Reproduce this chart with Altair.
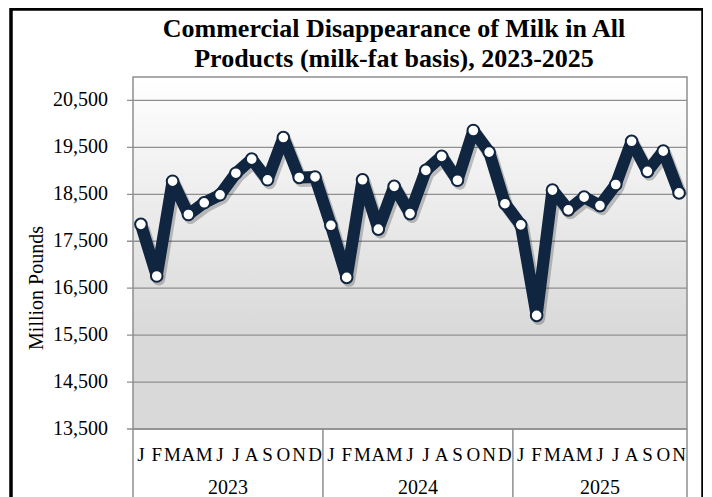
import altair as alt
import pandas as pd

# ---------------- data ----------------
months = ["J", "F", "M", "A", "M", "J", "J", "A", "S", "O", "N", "D"]
years = ["2023", "2024", "2025"]
values_2023 = [17860, 16760, 18780, 18070, 18320, 18490, 18950, 19250, 18810, 19710, 18860, 18870]
values_2024 = [17840, 16730, 18810, 17760, 18670, 18090, 19010, 19310, 18800, 19860, 19400, 18300]
values_2025 = [17850, 15920, 18590, 18170, 18440, 18260, 18710, 19630, 18990, 19420, 18530]
y_ticks = [13500, 14500, 15500, 16500, 17500, 18500, 19500, 20500]
y_domain = [13500, 21000]
title_lines = ["Commercial Disappearance of Milk in All", "Products (milk-fat basis), 2023-2025"]
y_title = "Million Pounds"

# ---------------- tables built from the arrays ----------------
series = [values_2023, values_2024, values_2025]
rows = []
idx = 0
year_rows = []
bounds = [-0.5]
for yr, vals in zip(years, series):
    start = idx
    for m, v in zip(months, vals):
        rows.append({"idx": idx, "month": m, "year": yr, "value": v})
        idx += 1
    year_rows.append({"year": yr, "center": (start + idx - 1) / 2})
    bounds.append(idx - 0.5)
df = pd.DataFrame(rows)
n = len(df)
ydf = pd.DataFrame({"year": [r["year"] for r in year_rows], "center": [r["center"] for r in year_rows]})
bdf = pd.DataFrame({"b": bounds})
tdf = pd.DataFrame({"tick": y_ticks})
one = pd.DataFrame({"k": [0]})

# ---------------- styling ----------------
W, H = 554, 352
SERIF = "Liberation Serif"
NAVY = "#10253f"
GRID = "#8f8f8f"

xscale = alt.Scale(domain=[-0.5, n - 0.5], nice=False, zero=False)
yscale = alt.Scale(domain=y_domain, nice=False, zero=False)


def X(field):
    return alt.X(field, type="quantitative", scale=xscale, axis=None)


def Y(field):
    return alt.Y(field, type="quantitative", scale=yscale, axis=None)


outer = alt.Chart(one).mark_rect(filled=False, stroke="black", strokeWidth=3.5).encode(
    x=alt.value(-122), x2=alt.value(570), y=alt.value(-68), y2=alt.value(H + 100))

bg = alt.Chart(one).mark_rect(
    fill=alt.LinearGradient(
        gradient="linear", x1=0, y1=0, x2=0, y2=1,
        stops=[alt.GradientStop(offset=0, color="#ffffff"),
               alt.GradientStop(offset=0.72, color="#d9d9d9"),
               alt.GradientStop(offset=1, color="#d9d9d9")])
).encode(x=alt.value(0), x2=alt.value(W), y=alt.value(0), y2=alt.value(H))

grid = alt.Chart(tdf).mark_rule(color=GRID, strokeWidth=1.3).encode(
    y=Y("tick"), x=alt.value(-6), x2=alt.value(W))

tick_lbl = alt.Chart(tdf).mark_text(font=SERIF, fontSize=20, color="black",
                                    align="right", baseline="middle").encode(
    y=Y("tick"), x=alt.value(-25), text=alt.Text("tick:Q", format=","))

frame = alt.Chart(one).mark_rect(filled=False, stroke=GRID, strokeWidth=1.5).encode(
    x=alt.value(0), x2=alt.value(W), y=alt.value(0), y2=alt.value(H))

seps = alt.Chart(bdf).mark_rule(color=GRID, strokeWidth=1.5).encode(
    x=X("b"), y=alt.value(H), y2=alt.value(H + 90))

shadow = alt.Chart(df).mark_line(color="black", opacity=0.22, strokeWidth=13,
                                 strokeJoin="round", xOffset=2, yOffset=3).encode(
    x=X("idx"), y=Y("value"))

line = alt.Chart(df).mark_line(color=NAVY, strokeWidth=12, strokeJoin="round").encode(
    x=X("idx"), y=Y("value"))

pts = alt.Chart(df).mark_circle(fill="white", stroke=NAVY, strokeWidth=2, size=135,
                                opacity=1).encode(x=X("idx"), y=Y("value"))

month_txt = alt.Chart(df).mark_text(font=SERIF, fontSize=19, color="black",
                                    baseline="alphabetic", align="center").encode(
    x=X("idx"), y=alt.value(384), text="month:N")

year_txt = alt.Chart(ydf).mark_text(font=SERIF, fontSize=20, color="black",
                                    baseline="alphabetic", align="center").encode(
    x=X("center"), y=alt.value(417), text="year:N")

title_txt = alt.Chart(one).mark_text(font=SERIF, fontSize=26, fontWeight="bold",
                                     color="black", baseline="alphabetic",
                                     align="center", lineHeight=30).encode(
    x=alt.value(261), y=alt.value(-40), text=alt.value(title_lines))

ytitle_txt = alt.Chart(one).mark_text(font=SERIF, fontSize=20, color="black",
                                      baseline="middle", align="center", angle=270).encode(
    x=alt.value(-96), y=alt.value(211), text=alt.value(y_title))

chart = alt.layer(
    outer, bg, grid, tick_lbl, frame, seps, shadow, line, pts,
    month_txt, year_txt, title_txt, ytitle_txt
).properties(
    width=W, height=H,
    autosize=alt.AutoSizeParams(type="none"),
    padding={"left": 125, "top": 69, "right": 16, "bottom": 71},
    background="white",
).configure_view(stroke=None)

chart.save("out.html", embed_options={"renderer": "svg", "actions": False})
